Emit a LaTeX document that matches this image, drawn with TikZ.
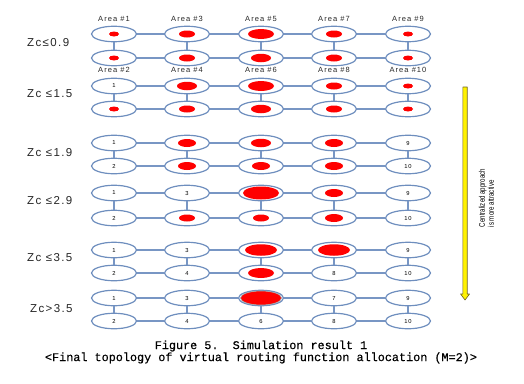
\documentclass[tikz,border=0pt]{standalone}
\usepackage{fontspec}
\usetikzlibrary{shapes.geometric}
\setmainfont{Liberation Sans}
\newfontfamily\areafont[LetterSpace=14]{Liberation Sans}
\newfontfamily\zcfont[LetterSpace=12]{Liberation Sans}
\newfontfamily\numfont[LetterSpace=12]{Liberation Sans}
\newfontfamily\narrowfont[FakeStretch=0.75]{Liberation Sans}
\newfontfamily\capfont[FakeBold=0.35]{Liberation Mono}
\definecolor{cellblue}{RGB}{110,142,190}
\definecolor{linkblue}{RGB}{120,150,196}
\definecolor{arrowedge}{RGB}{110,100,30}
\newcommand\dotcell[4]{%
  \node[cell] (#1) at (#2,#3) {};
  \node[#4] (#1d) at (#1.center) {};}
\newcommand\numcell[4]{\node[cell] (#1) at (#2,#3) {\numfont\fontsize{5.8}{6}\selectfont #4};}
\begin{document}
\begin{tikzpicture}[x=1pt,y=-1pt,
  cell/.style={ellipse,draw=cellblue,line width=1.2pt,fill=white,inner sep=0pt,
    minimum width=45pt,minimum height=15.5pt},
  reddot/.style={ellipse,fill=red,draw=none,inner sep=0pt},
  dS/.style={reddot,minimum width=10pt,minimum height=5pt},
  dM/.style={reddot,minimum width=16pt,minimum height=7pt},
  dMM/.style={reddot,minimum width=18pt,minimum height=8pt},
  dML/.style={reddot,minimum width=20pt,minimum height=8.5pt},
  dL/.style={reddot,minimum width=26pt,minimum height=10pt},
  dLL/.style={reddot,minimum width=32pt,minimum height=11.5pt},
  dXL/.style={reddot,minimum width=36pt,minimum height=13pt},
  dF/.style={reddot,draw=gray!70,line width=0.6pt,minimum width=41pt,minimum height=14pt},
  link/.style={draw=linkblue,line width=1.3pt},
  area/.style={font=\areafont\fontsize{7.5}{8}\selectfont,text=black!85,inner sep=0pt},
  zc/.style={font=\zcfont\fontsize{11.5}{12}\selectfont,text=black!85,anchor=west,inner sep=0pt}]
\useasboundingbox (0,0) rectangle (524,383);
% row 1
\dotcell{T1-1}{114}{34}{dS}\dotcell{T1-2}{187}{34}{dM}\dotcell{T1-3}{261}{34}{dL}\dotcell{T1-4}{334}{34}{dM}\dotcell{T1-5}{408}{34}{dS}
\dotcell{B1-1}{114}{58}{dS}\dotcell{B1-2}{187}{58}{dM}\dotcell{B1-3}{261}{58}{dML}\dotcell{B1-4}{334}{58}{dM}\dotcell{B1-5}{408}{58}{dS}
% row 2
\numcell{T2-1}{114}{86}{1}\dotcell{T2-2}{187}{86}{dML}\dotcell{T2-3}{261}{86}{dL}\dotcell{T2-4}{334}{86}{dM}\dotcell{T2-5}{408}{86}{dS}
\dotcell{B2-1}{114}{109}{dS}\dotcell{B2-2}{187}{109}{dM}\dotcell{B2-3}{261}{109}{dML}\dotcell{B2-4}{334}{109}{dM}\dotcell{B2-5}{408}{109}{dS}
% row 3
\numcell{T3-1}{114}{143}{1}\dotcell{T3-2}{187}{143}{dMM}\dotcell{T3-3}{261}{143}{dML}\dotcell{T3-4}{334}{143}{dMM}\numcell{T3-5}{408}{143}{9}
\numcell{B3-1}{114}{166}{2}\dotcell{B3-2}{187}{166}{dMM}\dotcell{B3-3}{261}{166}{dMM}\dotcell{B3-4}{334}{166}{dMM}\numcell{B3-5}{408}{166}{10}
% row 4
\numcell{T4-1}{114}{193}{1}\numcell{T4-2}{187}{193}{3}\dotcell{T4-3}{261}{193}{dXL}\dotcell{T4-4}{334}{193}{dMM}\numcell{T4-5}{408}{193}{9}
\numcell{B4-1}{114}{218}{2}\dotcell{B4-2}{187}{218}{dM}\dotcell{B4-3}{261}{218}{dM}\dotcell{B4-4}{334}{218}{dMM}\numcell{B4-5}{408}{218}{10}
% row 5
\numcell{T5-1}{114}{250}{1}\numcell{T5-2}{187}{250}{3}\dotcell{T5-3}{261}{250}{dLL}\dotcell{T5-4}{334}{250}{dLL}\numcell{T5-5}{408}{250}{9}
\numcell{B5-1}{114}{273}{2}\numcell{B5-2}{187}{273}{4}\dotcell{B5-3}{261}{273}{dL}\numcell{B5-4}{334}{273}{8}\numcell{B5-5}{408}{273}{10}
% row 6
\numcell{T6-1}{114}{298}{1}\numcell{T6-2}{187}{298}{3}\dotcell{T6-3}{261}{298}{dF}\numcell{T6-4}{334}{298}{7}\numcell{T6-5}{408}{298}{9}
\numcell{B6-1}{114}{321}{2}\numcell{B6-2}{187}{321}{4}\numcell{B6-3}{261}{321}{6}\numcell{B6-4}{334}{321}{8}\numcell{B6-5}{408}{321}{10}
% links
\foreach \r in {1,...,6}{
  \foreach \c [evaluate=\c as \n using int(\c+1)] in {1,...,4}{
    \draw[link] (T\r-\c) -- (T\r-\n);
    \draw[link] (B\r-\c) -- (B\r-\n);
  }
  \foreach \c in {1,...,5}{
    \draw[link] (T\r-\c) -- (B\r-\c);
  }
}
% area labels
\foreach \c/\k in {1/1,2/3,3/5,4/7,5/9}{
  \node[area] (A\k) at ([yshift=15pt]T1-\c.center) {Area \#\k};
}
\foreach \c/\k in {1/2,2/4,3/6,4/8,5/10}{
  \node[area] (A\k) at ([yshift=-12pt]B1-\c.center) {Area \#\k};
}
% Zc labels
\node[zc] (z1) at (27,43) {Zc≤0.9};
\node[zc] (z2) at (27,94) {Zc ≤1.5};
\node[zc] (z3) at (27,153) {Zc ≤1.9};
\node[zc] (z4) at (27,201) {Zc ≤2.9};
\node[zc] (z5) at (27,258) {Zc ≤3.5};
\node[zc] (z6) at (30,309) {Zc>3.5};
% yellow arrow
\coordinate (atop) at (465,87);
\coordinate (atip) at (465,300);
\filldraw[fill=yellow,draw=arrowedge,line width=0.6pt,line join=round]
  ([xshift=-2.2pt]atop) -- ([xshift=2.2pt]atop) -- ([xshift=2.2pt,yshift=6pt]atip)
  -- ([xshift=4.5pt,yshift=6pt]atip) -- (atip) -- ([xshift=-4.5pt,yshift=6pt]atip)
  -- ([xshift=-2.2pt,yshift=6pt]atip) -- cycle;
\node[rotate=90,align=left,font=\narrowfont\fontsize{8.2}{9}\selectfont,inner sep=0pt] (note) at (486.5,198)
  {Centralized approach\\is more attractive};
% caption
\node[font=\capfont\fontsize{11.8}{10.5}\selectfont,align=center,inner sep=0pt] (cap) at (261,352)
  {Figure 5.~~Simulation result 1\\<Final topology of virtual routing function allocation (M=2)>};
\end{tikzpicture}
\end{document}
